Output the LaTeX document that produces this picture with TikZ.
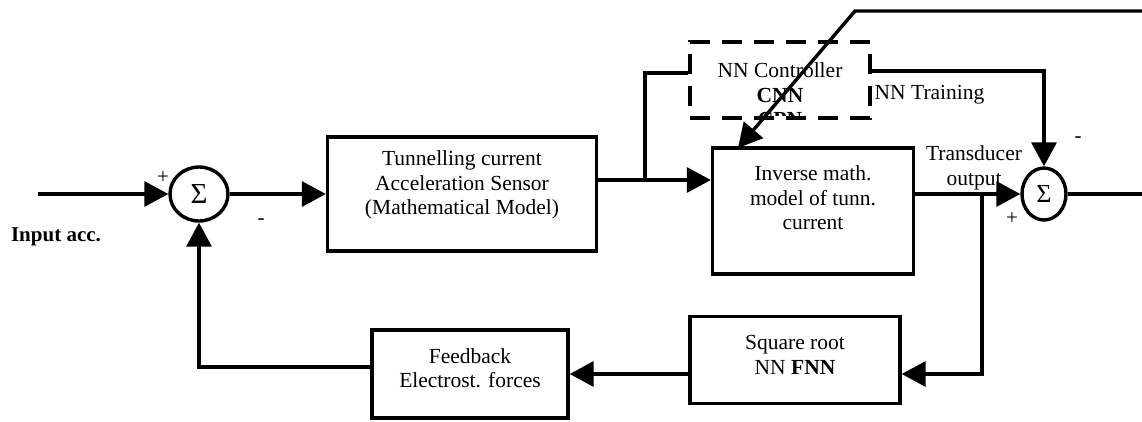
\documentclass[tikz,border=0pt]{standalone}
\usepackage{fontspec}
\setmainfont{Liberation Serif}
\usetikzlibrary{arrows.meta,shapes.geometric}
\begin{document}
\begin{tikzpicture}[x=1pt,y=-1pt,
  line width=3.4pt,
  blk/.style={draw, rectangle, inner sep=0pt},
  ctlbox/.style={draw, rectangle, inner sep=0pt, dash pattern=on 20pt off 12pt},
  sumnode/.style={draw, ellipse, inner sep=0pt, font=\fontsize{29}{29}\selectfont},
  txt/.style={align=center, inner sep=0pt, font=\fontsize{21.5}{24.5}\selectfont},
  sign/.style={inner sep=0pt, font=\fontsize{21}{21}\selectfont},
  arr/.style={-{Triangle[length=24pt,width=25pt]}},
  wire/.style={line cap=butt}]
\useasboundingbox (0,0) rectangle (1142,421);

% summing junctions
\node[sumnode, minimum width=58pt, minimum height=54pt] (s1) at (199,194) {Σ};
\node[sumnode, minimum width=44pt, minimum height=52pt, font=\fontsize{26}{26}\selectfont] (s2) at (1044,194) {Σ};

% blocks
\node[blk, minimum width=269pt, minimum height=114pt] (sens) at (462,194) {};
\node[txt] (senst) at (462,185) {Tunnelling current\\Acceleration Sensor\\(Mathematical Model)};

\node[blk, minimum width=201pt, minimum height=126pt] (inv) at (813,211) {};
\node[txt] (invt) at (813,198) {Inverse math.\\model of tunn.\\current};

\node[blk, minimum width=196pt, minimum height=88pt] (fb) at (470,374) {};
\node[txt] (fbt) at (470,368) {Feedback\\Electrost. forces};

\node[blk, minimum width=210pt, minimum height=87pt] (sq) at (795,360) {};
\node[txt] (sqt) at (795,355) {Square root\\NN \textbf{FNN}};

% neural controller (dashed), its last text line cut by the frame
\begin{scope}
  \clip (690,42) rectangle (870,115);
  \node[txt] (ctlt) at (780,95) {NN Controller\\\textbf{CNN}\\\textbf{CPN}};
\end{scope}
\node[ctlbox, minimum width=180pt, minimum height=76pt] (ctl) at (780,80) {};

% auxiliary points
\coordinate (in) at (38,194);
\coordinate (j1) at (645,180);
\coordinate (c1) at (645,73);
\coordinate (t1) at (1044,71);
\coordinate (d0) at (1142,11);
\coordinate (d1) at (855,11);
\coordinate (d2) at (738,148);
\coordinate (j2) at (982,194);
\coordinate (b2) at (982,374);
\coordinate (f1) at (199,367);
\coordinate (out) at (1142,194);

% forward path
\draw[arr] (in) -- (s1.west);
\draw[arr] (s1.east) -- (sens.west |- s1.east);
\draw[arr] (sens.east |- j1) -- (inv.west |- j1);
\draw[wire] (j1) -- (c1) -- (ctl.west |- c1);
\draw[arr] (inv.east |- s2.west) -- (s2.west);
\draw (s2.east) -- (out);

% training and control signals
\draw[arr] (ctl.east |- t1) -- (t1) -- (s2.north);
\draw[arr] (d0) -- (d1) -- (d2);

% feedback path
\draw[arr] (j2) -- (b2) -- (sq.east |- b2);
\draw[arr] (sq.west |- fb.east) -- (fb.east);
\draw[arr] (fb.west |- f1) -- (f1) -- (s1.south);

% labels
\node[sign] (p1) at (163,178) {+};
\node[sign] (m1) at (261,222) {-};
\node[sign] (p2) at (1012,219) {+};
\node[sign] (m2) at (1078,140) {-};
\node[txt, font=\fontsize{21}{24}\selectfont\bfseries] (inl) at (56,237) {Input acc.};
\node[txt, anchor=west] (trn) at (873,95) {NN Training};
\node[txt] (tdo) at (974,168) {Transducer\\output};
\end{tikzpicture}
\end{document}
